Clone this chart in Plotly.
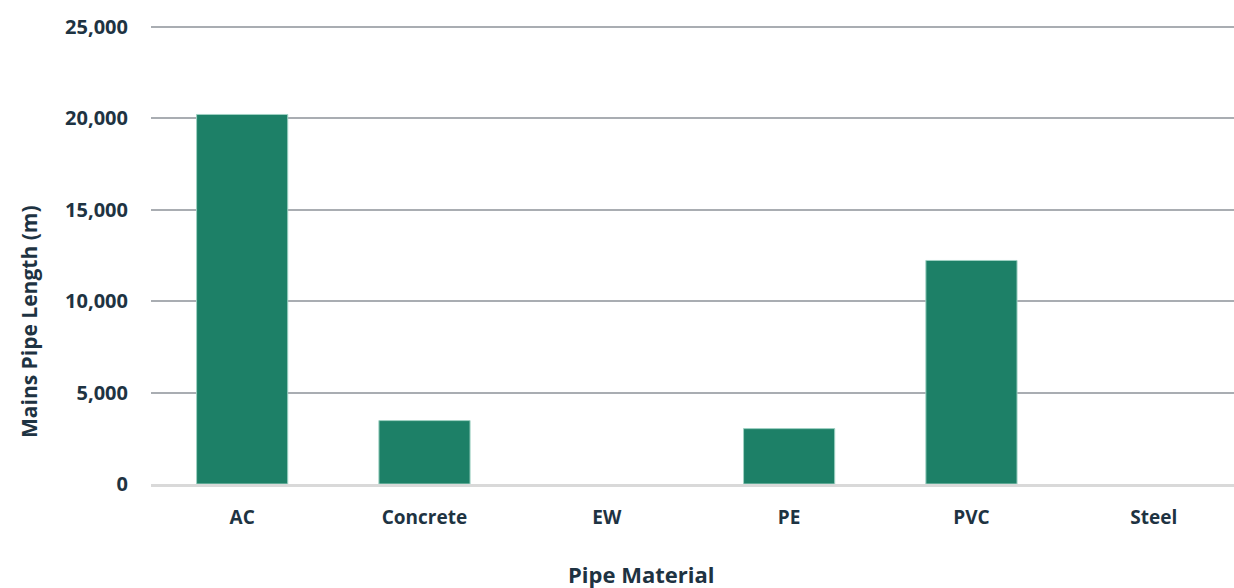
import plotly.graph_objects as go

categories = ["AC", "Concrete", "EW", "PE", "PVC", "Steel"]
lengths_m = [20220, 3470, 0, 3030, 12230, 0]
y_ticks = [0, 5000, 10000, 15000, 20000, 25000]
y_tick_labels = ["0", "5,000", "10,000", "15,000", "20,000", "25,000"]

text_color = "#1e3342"
font_family = "Open Sans, Noto Sans, sans-serif"

W, H = 1234, 588
L, R, T, B = 151, 0, 26, 104

def px(page_x):
    return (page_x - L) / (W - L - R)

def py(page_y):
    return ((H - B) - page_y) / (H - B - T)

outline_widths = [1 if v > 0 else 0 for v in lengths_m]

fig = go.Figure()
fig.add_trace(go.Bar(
    x=categories,
    y=lengths_m,
    marker=dict(color="#1d8067", line=dict(color="#9fd1c3", width=outline_widths)),
    hoverinfo="x+y",
))

fig.update_layout(
    width=W,
    height=H,
    paper_bgcolor="white",
    plot_bgcolor="white",
    margin=dict(l=L, r=R, t=T, b=B, autoexpand=False),
    bargap=0.5,
    showlegend=False,
    font=dict(family=font_family, color=text_color),
    xaxis=dict(
        type="category",
        range=[-0.5, 5.44],
        showgrid=False,
        showline=True,
        linecolor="#d9d9d9",
        linewidth=3,
        ticks="",
        tickfont=dict(size=19, color=text_color, family=font_family, weight="bold"),
        ticklabelstandoff=14,
    ),
    yaxis=dict(
        range=[0, 25060],
        tickvals=y_ticks,
        ticktext=y_tick_labels,
        showgrid=True,
        gridcolor="#a9adb2",
        gridwidth=2,
        zeroline=False,
        showline=False,
        ticks="",
        tickfont=dict(size=20, color=text_color, family=font_family, weight="bold"),
        ticklabelstandoff=22,
    ),
    annotations=[
        dict(
            text="<b>Pipe Material</b>",
            xref="paper", yref="paper",
            x=px(641), y=py(574),
            xanchor="center", yanchor="middle",
            showarrow=False,
            font=dict(size=22, color=text_color, family=font_family),
        ),
        dict(
            text="<b>Mains Pipe Length (m)</b>",
            xref="paper", yref="paper",
            x=px(29), y=py(321),
            xanchor="center", yanchor="middle",
            textangle=-90,
            showarrow=False,
            font=dict(size=21, color=text_color, family=font_family),
        ),
    ],
)

fig.write_html(
    "out.html",
    config={"displayModeBar": False},
    post_script="document.body.style.margin='0';document.body.style.overflow='hidden';",
)
